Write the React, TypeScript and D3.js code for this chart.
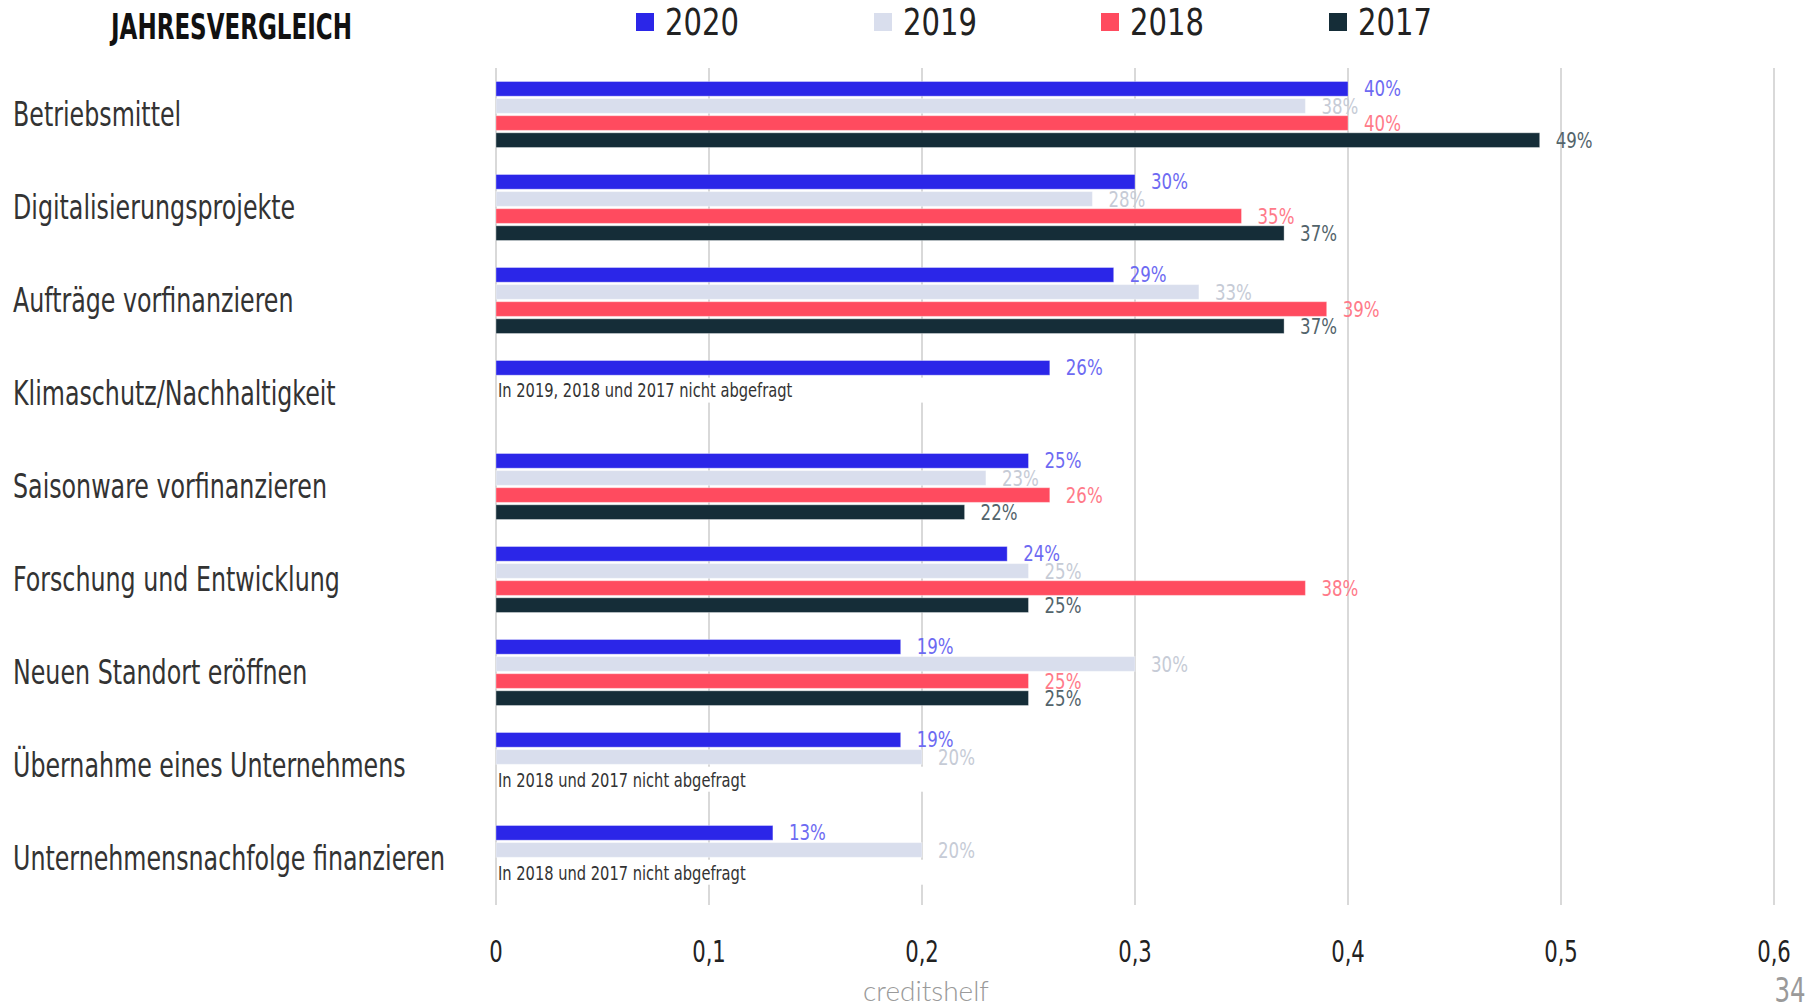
import React from "react";
import * as d3 from "d3";

const categories = [
  "Betriebsmittel",
  "Digitalisierungsprojekte",
  "Aufträge vorfinanzieren",
  "Klimaschutz/Nachhaltigkeit",
  "Saisonware vorfinanzieren",
  "Forschung und Entwicklung",
  "Neuen Standort eröffnen",
  "Übernahme eines Unternehmens",
  "Unternehmensnachfolge finanzieren",
];
const years = ["2020", "2019", "2018", "2017"];
const v2020 = [0.4, 0.3, 0.29, 0.26, 0.25, 0.24, 0.19, 0.19, 0.13];
const v2019 = [0.38, 0.28, 0.33, null, 0.23, 0.25, 0.3, 0.2, 0.2];
const v2018 = [0.4, 0.35, 0.39, null, 0.26, 0.38, 0.25, null, null];
const v2017 = [0.49, 0.37, 0.37, null, 0.22, 0.25, 0.25, null, null];
const notes = [
  null,
  null,
  null,
  "In 2019, 2018 und 2017 nicht abgefragt",
  null,
  null,
  null,
  "In 2018 und 2017 nicht abgefragt",
  "In 2018 und 2017 nicht abgefragt",
];
const xTicks = [0, 0.1, 0.2, 0.3, 0.4, 0.5, 0.6];
const title = "JAHRESVERGLEICH";
const footer = "creditshelf";
const pageNo = "34";

const seriesValues: (number | null)[][] = [v2020, v2019, v2018, v2017];
const barColors = ["#2b26e8", "#d9deed", "#ff4b5f", "#152d38"];
const labelColors = ["#6d6af2", "#c6cbd6", "#ff7a89", "#53646b"];
const legendX = [636, 874, 1101, 1329];

const NARROW = "'DejaVu Sans Condensed', 'DejaVu Sans', sans-serif";
const LIGHT = "Lato, 'Open Sans', sans-serif";

type STProps = {
  x: number;
  y: number;
  sx: number;
  children: React.ReactNode;
  [k: string]: any;
};
function SText({ x, y, sx, children, ...rest }: STProps) {
  return (
    <text transform={`translate(${x},${y}) scale(${sx},1)`} {...rest}>
      {children}
    </text>
  );
}

export default function App() {
  const W = 1811;
  const H = 1003;
  const x = d3.scaleLinear().domain([0, 0.6]).range([496, 1774]);
  const y = d3.scaleBand<string>().domain(categories).range([68, 905]).padding(0);
  const y1 = d3
    .scaleBand<string>()
    .domain(years)
    .range([0, y.bandwidth()])
    .paddingInner(0.14)
    .paddingOuter(0.79);
  const fmt = (v: number) => `${Math.round(v * 100)}%`;
  const tickFmt = (v: number) => d3.format("~g")(v).replace(".", ",");

  return (
    <svg
      width={W}
      height={H}
      viewBox={`0 0 ${W} ${H}`}
      style={{ position: "absolute", left: 0, top: 0, display: "block", background: "#fff" }}
    >
      {/* title */}
      <text
        x={111}
        y={38.5}
        fontFamily={NARROW}
        fontWeight={700}
        fontSize={36}
        fill="#111"
        textLength={241}
        lengthAdjust="spacingAndGlyphs"
      >
        {title}
      </text>

      {/* legend */}
      {years.map((yr, i) => (
        <g key={yr} transform={`translate(${legendX[i]},0)`}>
          <rect x={0} y={13} width={18} height={18} fill={barColors[i]} />
          <SText x={29} y={35} sx={0.85} fontFamily={NARROW} fontWeight={300} fontSize={38} fill="#222">
            {yr}
          </SText>
        </g>
      ))}

      {/* gridlines */}
      {xTicks.map((t) => (
        <line
          key={`g${t}`}
          x1={x(t)}
          x2={x(t)}
          y1={y.range()[0]}
          y2={y.range()[1]}
          stroke="#d9d9d9"
          strokeWidth={2}
        />
      ))}

      {/* tick labels */}
      {xTicks.map((t) => (
        <SText
          key={`t${t}`}
          x={x(t)}
          y={962}
          sx={0.76}
          textAnchor="middle"
          fontFamily={NARROW}
          fontSize={31}
          fill="#222"
        >
          {tickFmt(t)}
        </SText>
      ))}

      {/* groups */}
      {categories.map((c, ci) => {
        const gy = y(c)!;
        const present = seriesValues.map((s) => s[ci]);
        const lastIdx = present.reduce((acc, v, i) => (v != null ? i : acc), -1);
        const note = notes[ci];
        return (
          <g key={c} transform={`translate(0,${gy})`}>
            <SText
              x={13}
              y={y.bandwidth() / 2}
              sx={0.8}
              dominantBaseline="central"
              fontFamily={NARROW}
              fontSize={33}
              fill="#333"
            >
              {c}
            </SText>
            {years.map((yr, si) => {
              const v = present[si];
              if (v == null) return null;
              const by = y1(yr)!;
              return (
                <g key={yr}>
                  <rect
                    x={x(0)}
                    y={by}
                    width={x(v) - x(0)}
                    height={y1.bandwidth()}
                    fill={barColors[si]}
                    stroke="#fff"
                    strokeOpacity={0.35}
                    strokeWidth={1}
                  />
                  <SText
                    x={x(v) + 16}
                    y={by + y1.bandwidth() / 2}
                    sx={0.84}
                    dominantBaseline="central"
                    fontFamily={NARROW}
                    fontSize={22}
                    fill={labelColors[si]}
                  >
                    {fmt(v)}
                  </SText>
                </g>
              );
            })}
            {note && lastIdx + 1 < years.length && (
              <g>
                <rect
                  x={x(0) + 1}
                  y={y1(years[lastIdx + 1])!}
                  width={x(0.215) - x(0)}
                  height={25}
                  fill="#fff"
                />
                <SText
                  x={x(0) + 2}
                  y={y1(years[lastIdx + 1])! + y1.bandwidth() / 2 + 12.5}
                  sx={0.815}
                  fontFamily={NARROW}
                  fontSize={20}
                  fill="#333"
                >
                  {note}
                </SText>
              </g>
            )}
          </g>
        );
      })}

      {/* footer */}
      <text x={926} y={1001} textAnchor="middle" fontFamily={LIGHT} fontWeight={300} fontSize={28} fill="#9a9a9a">
        {footer}
      </text>
      <SText x={1790} y={1002} sx={0.8} textAnchor="middle" fontFamily={NARROW} fontSize={34} fill="#9a9a9a">
        {pageNo}
      </SText>
    </svg>
  );
}
